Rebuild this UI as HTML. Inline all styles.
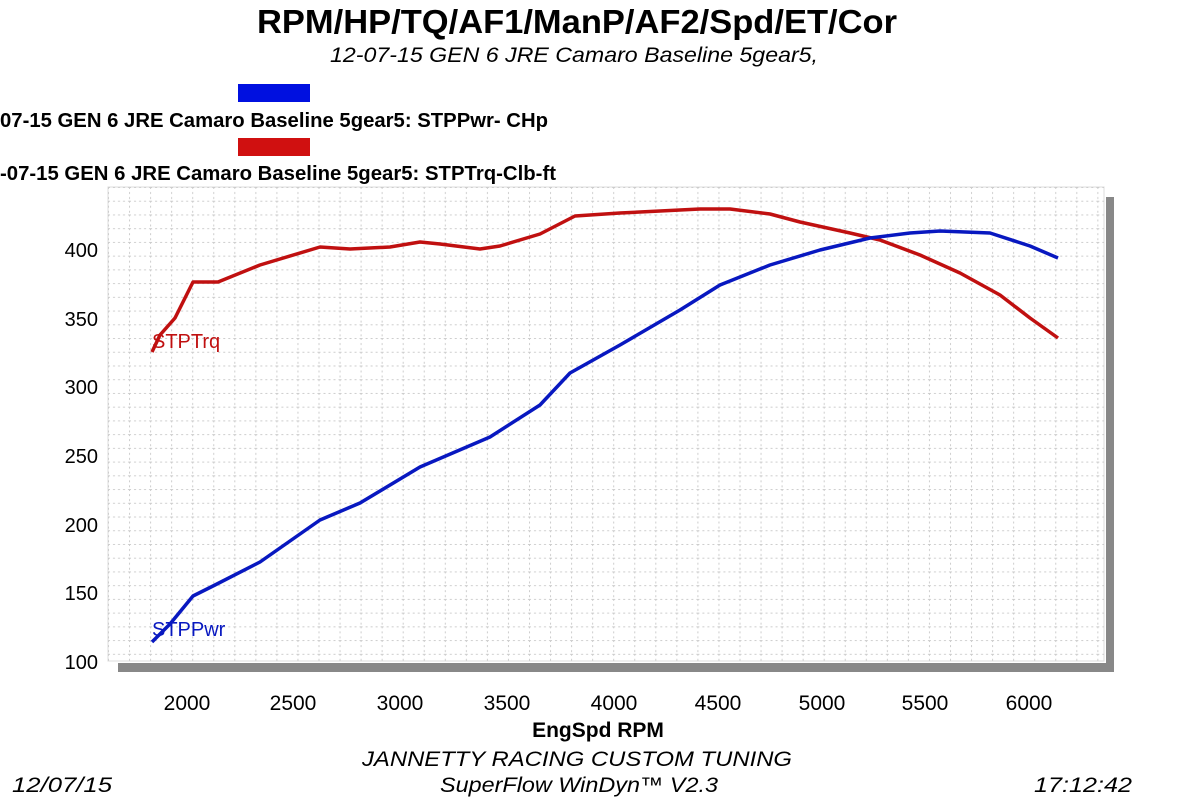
<!DOCTYPE html>
<html><head><style>
body{margin:0;background:#fff;width:1200px;height:799px;overflow:hidden;font-family:"Liberation Sans",sans-serif;}
</style></head><body>
<svg width="1200" height="799" xmlns="http://www.w3.org/2000/svg" font-family="Liberation Sans, sans-serif">
<defs>
<pattern id="g" x="108" y="187" width="21.05" height="13.73" patternUnits="userSpaceOnUse">
<line x1="0.5" y1="0" x2="0.5" y2="13.73" stroke="#ccc" stroke-dasharray="2,3"/>
<line x1="0" y1="0.5" x2="21.05" y2="0.5" stroke="#ccc" stroke-dasharray="2,3"/>
</pattern>
</defs>
<text x="577" y="33" font-size="33" font-weight="bold" text-anchor="middle" textLength="640" lengthAdjust="spacingAndGlyphs">RPM/HP/TQ/AF1/ManP/AF2/Spd/ET/Cor</text>
<text x="574" y="62" font-size="21" font-style="italic" text-anchor="middle" textLength="488" lengthAdjust="spacingAndGlyphs">12-07-15 GEN 6 JRE Camaro Baseline 5gear5,</text>
<rect x="238" y="84" width="72" height="18" fill="#0010e0"/>
<text x="0" y="127" font-size="20" font-weight="bold" textLength="548" lengthAdjust="spacingAndGlyphs">07-15 GEN 6 JRE Camaro Baseline 5gear5: STPPwr- CHp</text>
<rect x="238" y="138" width="72" height="18" fill="#d01010"/>
<text x="0" y="180" font-size="20" font-weight="bold" textLength="556" lengthAdjust="spacingAndGlyphs">-07-15 GEN 6 JRE Camaro Baseline 5gear5: STPTrq-Clb-ft</text>
<rect x="1106" y="197" width="8" height="475" fill="#888"/>
<rect x="118" y="663" width="996" height="9" fill="#888"/>
<rect x="108" y="187" width="996" height="474" fill="#fff" stroke="#ddd"/>
<rect x="108" y="187" width="996" height="474" fill="url(#g)"/>
<g font-size="20" text-anchor="end">
<text x="98" y="257">400</text><text x="98" y="326">350</text><text x="98" y="394">300</text>
<text x="98" y="463">250</text><text x="98" y="532">200</text><text x="98" y="600">150</text><text x="98" y="669">100</text>
</g>
<g font-size="21" text-anchor="middle">
<text x="187" y="710">2000</text><text x="293" y="710">2500</text><text x="400" y="710">3000</text>
<text x="507" y="710">3500</text><text x="614" y="710">4000</text><text x="718" y="710">4500</text>
<text x="822" y="710">5000</text><text x="925" y="710">5500</text><text x="1029" y="710">6000</text>
</g>
<text x="598" y="737" font-size="21" font-weight="bold" text-anchor="middle">EngSpd  RPM</text>
<text x="577" y="766" font-size="21" font-style="italic" text-anchor="middle" textLength="430" lengthAdjust="spacingAndGlyphs">JANNETTY RACING CUSTOM TUNING</text>
<text x="579" y="792" font-size="21" font-style="italic" text-anchor="middle" textLength="278" lengthAdjust="spacingAndGlyphs">SuperFlow WinDyn™ V2.3</text>
<text x="12" y="792" font-size="21" font-style="italic" textLength="100" lengthAdjust="spacingAndGlyphs">12/07/15</text>
<text x="1132" y="792" font-size="21" font-style="italic" text-anchor="end" textLength="98" lengthAdjust="spacingAndGlyphs">17:12:42</text>
<polyline fill="none" stroke="#c01010" stroke-width="3.5" stroke-linejoin="round" points="152,352 160,335 175,318 193,282 218,282 260,265 320,247 350,249 390,247 420,242 440,244 480,249 500,246 540,234 575,216 620,213 660,211 700,209 730,209 770,214 800,222 850,233 880,240 920,255 960,273 1000,295 1030,318 1058,338"/>
<polyline fill="none" stroke="#0818c0" stroke-width="3.5" stroke-linejoin="round" points="152,642 170,624 193,596 215,585 260,562 320,520 360,503 420,467 490,437 540,405 570,373 620,345 680,310 720,285 770,265 820,250 870,238 910,233 940,231 990,233 1030,246 1058,258"/>
<text x="152" y="348" font-size="20" fill="#c01010">STPTrq</text>
<text x="152" y="636" font-size="20" fill="#0818c0">STPPwr</text>
</svg>
</body></html>
